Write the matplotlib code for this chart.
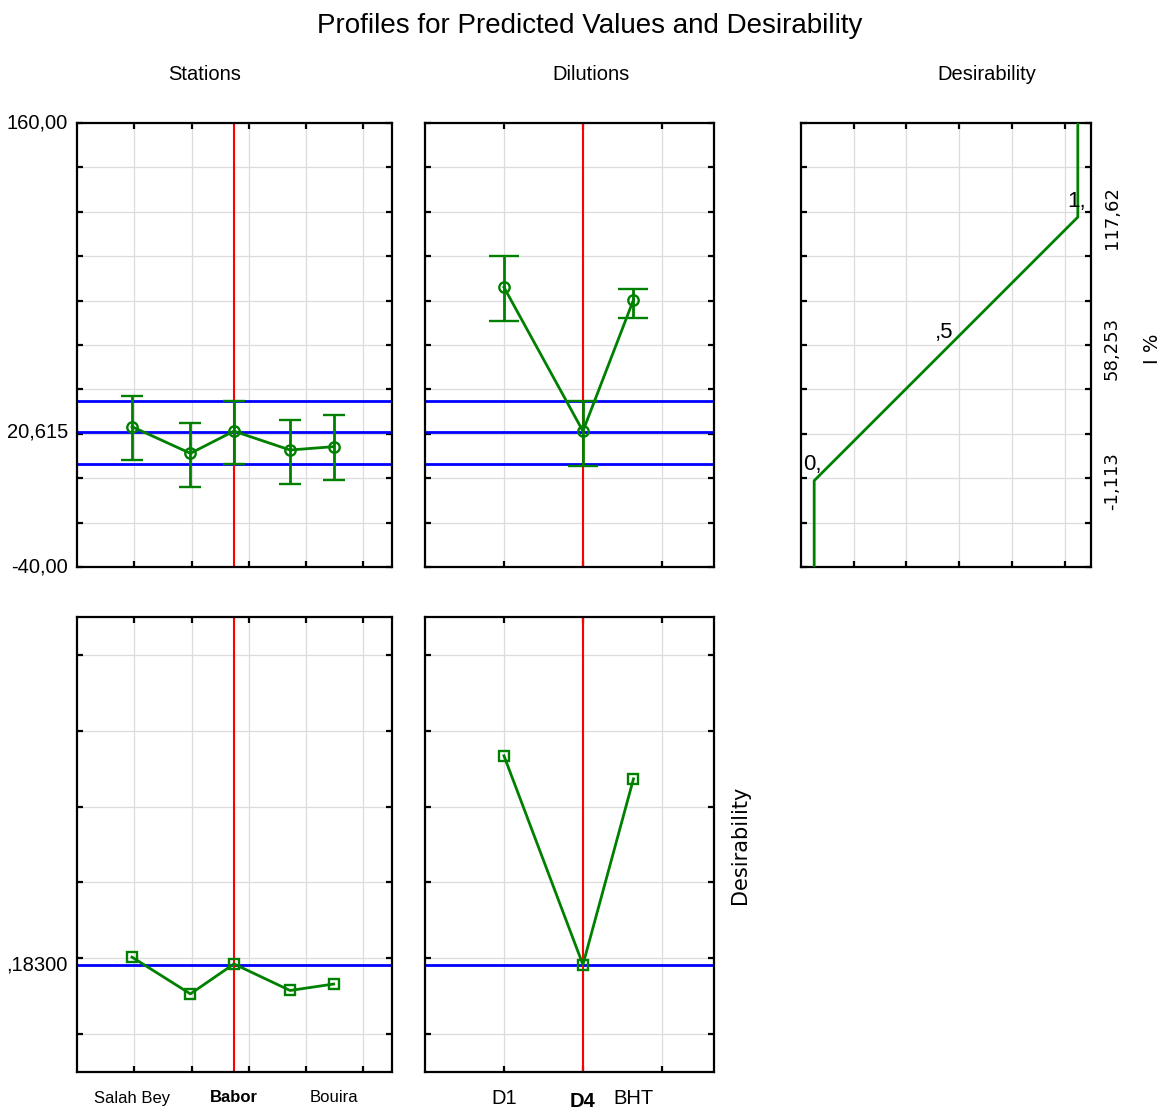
import matplotlib
matplotlib.use("Agg")
import matplotlib.pyplot as plt
import matplotlib.transforms as mtransforms

# ---------------- data ----------------
stations_shown = ["Salah Bey", "Babor", "Bouira"]
stations_shown_idx = [0, 2, 4]
station_x = [0.96, 1.98, 2.74, 3.72, 4.48]
station_mean = [23.2, 11.2, 21.2, 12.7, 14.2]
station_low = [8.1, -4.1, 6.2, -2.7, -0.8]
station_high = [37.2, 24.9, 34.8, 26.2, 28.5]
station_desir = [0.203, 0.106, 0.185, 0.115, 0.132]

dilutions = ["D1", "D4", "BHT"]
dilution_x = [1.0, 2.0, 2.64]
dilution_mean = [86.0, 21.2, 80.3]
dilution_low = [70.8, 5.7, 72.0]
dilution_high = [100.1, 34.8, 85.2]
dilution_desir = [0.734, 0.183, 0.673]

current_station = 2
current_dilution = 1
current_value = 20.615
ci_low, ci_high = 6.2, 35.0
current_desir = 0.183

desir_levels = [0.0, 0.5, 1.0]
desir_level_labels = ["0,", ",5", "1,"]
desir_values = [-1.113, 58.253, 117.62]
desir_value_labels = ["-1,113", "58,253", "117,62"]

y_top_range = (-40, 160)
y_top_labels = {160: "160,00", -40: "-40,00"}

# ---------------- style ----------------
W, H, DPI = 1162, 1110, 100
GREEN = "#008000"
BLUE = "#0000ff"
RED = "#ff0000"
GRID = "#dcdcdc"
NARROW = ["Liberation Sans Narrow", "Liberation Sans", "DejaVu Sans"]
WIDE = ["DejaVu Sans"]

fig = plt.figure(figsize=(W / DPI, H / DPI), dpi=DPI)


def rect(x0, y0, x1, y1):
    return [x0 / W, 1 - y1 / H, (x1 - x0) / W, (y1 - y0) / H]


ax_tl = fig.add_axes(rect(77, 123, 392, 567))
ax_tm = fig.add_axes(rect(425, 123, 714, 567))
ax_tr = fig.add_axes(rect(801, 123, 1091, 567))
ax_bl = fig.add_axes(rect(77, 617, 392, 1072))
ax_bm = fig.add_axes(rect(425, 617, 714, 1072))


def style(ax):
    for s in ax.spines.values():
        s.set_linewidth(1.6)
        s.set_color("black")
    ax.tick_params(direction="in", length=4, width=1.6, top=True, right=True,
                   labelbottom=False, labelleft=False)
    ax.grid(True, color=GRID, lw=0.9)
    ax.set_axisbelow(True)


top_yticks = list(range(-40, 161, 20))
bot_yticks = [0.0, 0.2, 0.4, 0.6, 0.8, 1.0]

# top-left: stations
ax = ax_tl
style(ax)
ax.set_xlim(0, 5.5)
ax.set_ylim(*y_top_range)
ax.set_xticks([1, 2, 3, 4, 5])
ax.set_yticks(top_yticks)
for v in (ci_low, current_value, ci_high):
    ax.axhline(v, color=BLUE, lw=2, zorder=2)
ax.axvline(station_x[current_station], color=RED, lw=1.5, zorder=2)
ax.errorbar(station_x, station_mean,
            yerr=[[m - l for m, l in zip(station_mean, station_low)],
                  [h - m for m, h in zip(station_mean, station_high)]],
            fmt="-o", color=GREEN, lw=2, elinewidth=2, capsize=8, capthick=2,
            ms=7.5, mfc="none", mew=1.7, zorder=3)

# top-middle: dilutions
ax = ax_tm
style(ax)
ax.set_xlim(0, 3.66)
ax.set_ylim(*y_top_range)
ax.set_xticks([1, 2, 3])
ax.set_yticks(top_yticks)
for v in (ci_low, current_value, ci_high):
    ax.axhline(v, color=BLUE, lw=2, zorder=2)
ax.axvline(dilution_x[current_dilution], color=RED, lw=1.5, zorder=2)
ax.errorbar(dilution_x, dilution_mean,
            yerr=[[m - l for m, l in zip(dilution_mean, dilution_low)],
                  [h - m for m, h in zip(dilution_mean, dilution_high)]],
            fmt="-o", color=GREEN, lw=2, elinewidth=2, capsize=11, capthick=2,
            ms=7.5, mfc="none", mew=1.7, zorder=3)

# top-right: desirability function
ax = ax_tr
style(ax)
ax.set_xlim(-0.05, 1.05)
ax.set_ylim(*y_top_range)
ax.set_xticks([0.15, 0.35, 0.55, 0.75, 0.95])
ax.set_yticks(top_yticks)
ax.plot([desir_levels[0], desir_levels[0], desir_levels[2], desir_levels[2]],
        [y_top_range[0], desir_values[0], desir_values[2], y_top_range[1]],
        color=GREEN, lw=2, zorder=3)
for d, lab, v in zip(desir_levels, desir_level_labels, desir_values):
    ax.annotate(lab, (d, v), xytext=(-1, 4), textcoords="offset points",
                ha="center", va="bottom", fontsize=16, family=NARROW)
trans_r = mtransforms.blended_transform_factory(ax.transAxes, ax.transData)
for v, lab in zip(desir_values, desir_value_labels):
    ax.text(1 + 21 / 290, v, lab, transform=trans_r, rotation=90,
            ha="center", va="center", fontsize=13, family=WIDE)
ax.text(1 + 62 / 290, 58.253, "I %", transform=trans_r, rotation=90,
        ha="center", va="center", fontsize=14, family=WIDE)

# bottom-left: station desirability
ax = ax_bl
style(ax)
ax.set_xlim(0, 5.5)
ax.set_ylim(-0.1, 1.1)
ax.set_xticks([1, 2, 3, 4, 5])
ax.set_yticks(bot_yticks)
ax.axhline(current_desir, color=BLUE, lw=2, zorder=2)
ax.axvline(station_x[current_station], color=RED, lw=1.5, zorder=2)
ax.plot(station_x, station_desir, "-s", color=GREEN, lw=2, ms=6.5,
        mfc="none", mew=1.7, zorder=3)

# bottom-middle: dilution desirability
ax = ax_bm
style(ax)
ax.set_xlim(0, 3.66)
ax.set_ylim(-0.1, 1.1)
ax.set_xticks([1, 2, 3])
ax.set_yticks(bot_yticks)
ax.axhline(current_desir, color=BLUE, lw=2, zorder=2)
ax.axvline(dilution_x[current_dilution], color=RED, lw=1.5, zorder=2)
ax.plot(dilution_x, dilution_desir, "-s", color=GREEN, lw=2, ms=6.5,
        mfc="none", mew=1.7, zorder=3)
ax.text(1 + 26 / 289, 0.5, "Desirability", transform=ax.transAxes,
        rotation=90, ha="center", va="center", fontsize=15, family=WIDE)

# y labels on left
trans_l = mtransforms.blended_transform_factory(ax_tl.transAxes, ax_tl.transData)
for v, lab in y_top_labels.items():
    ax_tl.text(-9 / 315, v, lab, transform=trans_l, ha="right", va="center",
               fontsize=14.5, family=NARROW)
ax_tl.text(-9 / 315, current_value, "20,615", transform=trans_l, ha="right",
           va="center", fontsize=14.5, family=NARROW)
trans_bl = mtransforms.blended_transform_factory(ax_bl.transAxes, ax_bl.transData)
ax_bl.text(-9 / 315, current_desir, ",18300", transform=trans_bl, ha="right",
           va="center", fontsize=14.5, family=NARROW)

# x category labels
trans_x = mtransforms.blended_transform_factory(ax_bl.transData, ax_bl.transAxes)
for i, lab in zip(stations_shown_idx, stations_shown):
    ax_bl.text(station_x[i], -26 / 455, lab, transform=trans_x, ha="center",
               va="center", fontsize=12, family=NARROW,
               fontweight="bold" if i == current_station else "normal")
trans_x2 = mtransforms.blended_transform_factory(ax_bm.transData, ax_bm.transAxes)
for i, lab in enumerate(dilutions):
    cur = i == current_dilution
    ax_bm.text(dilution_x[i], (-29.5 if cur else -27) / 455, lab,
               transform=trans_x2, ha="center", va="center", fontsize=14.5,
               family=NARROW, fontweight="bold" if cur else "normal")

# titles
fig.text(590 / W, 1 - 26 / H, "Profiles for Predicted Values and Desirability",
         ha="center", va="center", fontsize=20, family=NARROW)
for x, t in [(205, "Stations"), (591, "Dilutions"), (987, "Desirability")]:
    fig.text(x / W, 1 - 75 / H, t, ha="center", va="center", fontsize=14.5,
             family=NARROW)

fig.savefig("out.png", dpi=DPI)
